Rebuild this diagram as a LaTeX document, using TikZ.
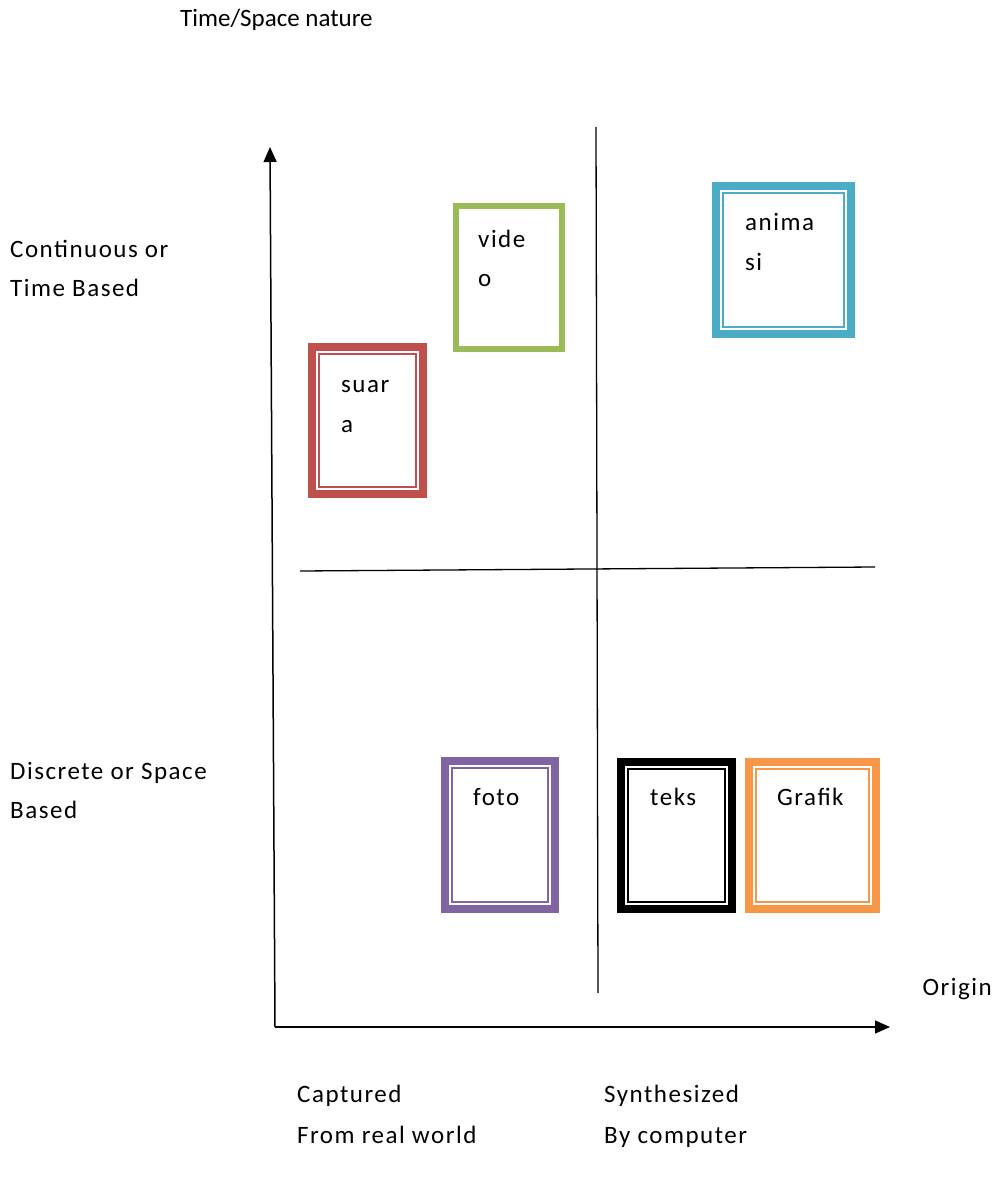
\documentclass[tikz,border=0pt]{standalone}
\usepackage{fontspec}
\setmainfont{Carlito}[LetterSpace=6]
\newfontfamily\titlefont{Carlito}
\usetikzlibrary{arrows.meta, positioning, calc}
\definecolor{suaraRed}{HTML}{C0504D}
\definecolor{videoGreen}{HTML}{9BBB59}
\definecolor{animBlue}{HTML}{4BACC6}
\definecolor{fotoPurple}{HTML}{8064A2}
\definecolor{grafOrange}{HTML}{F79646}
\tikzset{
  media/.style={draw=#1, line width=8pt, anchor=north west, inner sep=0pt, outer sep=0pt},
  mediainner/.style={draw=#1, line width=2pt},
  lbl/.style={anchor=base west, inner sep=0pt},
  axis/.style={line width=1.5pt, -{Triangle[length=15pt,width=13pt]}},
  divider/.style={line width=1.3pt}
}

\begin{document}
\begin{tikzpicture}[x=1pt, y=-1pt, font=\fontsize{25}{40}\selectfont]
        \useasboundingbox (0,0) rectangle (997,1177);
        % Axes
        \coordinate (O) at (275,1027);
        \coordinate (ytop) at (270,147);
        \coordinate (xend) at (890,1027);
        \draw[axis] (O) -- (ytop);
        \draw[axis] (O) -- (xend);
        % Quadrant lines
        \coordinate (vtop) at (596,127);
        \coordinate (vbot) at (598,993);
        \coordinate (hleft) at (300,571);
        \coordinate (hright) at (875,567);
        \draw[divider] (vtop) -- (vbot);
        \draw[divider] (hleft) -- (hright);
        % Axis texts
        \node[lbl, font=\fontsize{25}{40}\titlefont] (title) at (180,27) {Time/Space nature};
        \node[lbl] (cont1) at (10,257) {Continuous or};
        \node[lbl] (cont2) at (10,296) {Time Based};
        \node[lbl] (disc1) at (10,779) {Discrete or Space};
        \node[lbl] (disc2) at (10,818) {Based};
        \node[lbl, anchor=base east] (origin) at (992,995) {Origin};
        \node[lbl] (capt1) at (297,1102) {Captured};
        \node[lbl] (capt2) at (297,1143) {From real world};
        \node[lbl] (synt1) at (604,1102) {Synthesized};
        \node[lbl] (synt2) at (604,1143) {By computer};
        % Box suara
        \node[media=suaraRed, minimum width=111pt, minimum height=147pt] (suara) at (312,347) {};
        \draw[mediainner=suaraRed] ([shift={(7pt,-7pt)}]suara.north west) rectangle ([shift={(-7pt,7pt)}]suara.south east);
        \node[lbl] (suara1) at (341,392) {suar};
        \node[lbl] (suara2) at (341,432) {a};
        % Box video
        \node[media=videoGreen, line width=6pt, minimum width=106pt, minimum height=143pt] (video) at (456,206) {};
        \node[lbl] (video1) at (478,247) {vide};
        \node[lbl] (video2) at (478,286) {o};
        % Box animasi
        \node[media=animBlue, minimum width=135pt, minimum height=148pt] (animasi) at (716,186) {};
        \draw[mediainner=animBlue] ([shift={(7pt,-7pt)}]animasi.north west) rectangle ([shift={(-7pt,7pt)}]animasi.south east);
        \node[lbl] (animasi1) at (745,230) {anima};
        \node[lbl] (animasi2) at (745,270) {si};
        % Box foto
        \node[media=fotoPurple, minimum width=110pt, minimum height=148pt] (foto) at (445,761) {};
        \draw[mediainner=fotoPurple] ([shift={(7pt,-7pt)}]foto.north west) rectangle ([shift={(-7pt,7pt)}]foto.south east);
        \node[lbl] (foto1) at (473,805) {foto};
        % Box teks
        \node[media=black, minimum width=111pt, minimum height=147pt] (teks) at (621,762) {};
        \draw[mediainner=black] ([shift={(7pt,-7pt)}]teks.north west) rectangle ([shift={(-7pt,7pt)}]teks.south east);
        \node[lbl] (teks1) at (650,805) {teks};
        % Box Grafik
        \node[media=grafOrange, minimum width=127pt, minimum height=147pt] (grafik) at (749,762) {};
        \draw[mediainner=grafOrange] ([shift={(7pt,-7pt)}]grafik.north west) rectangle ([shift={(-7pt,7pt)}]grafik.south east);
        \node[lbl] (grafik1) at (777,805) {Grafik};
\end{tikzpicture}
\end{document}
